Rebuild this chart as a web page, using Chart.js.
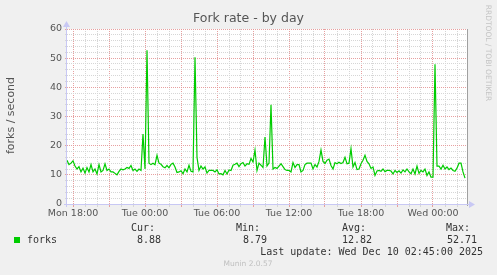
<!DOCTYPE html>
<html><head><meta charset="utf-8">
<script src="https://cdn.jsdelivr.net/npm/chart.js@4/dist/chart.umd.min.js"></script>
<style>html,body{margin:0;padding:0;background:#f0f0f0;}canvas{display:block;}</style>
</head><body>
<canvas id="c" width="497" height="275"></canvas>
<script>
// ---- data ----
const chartTitle = 'Fork rate - by day';
const yAxisTitle = 'forks / second';
const startHour = 17.5;          // Mon 17:30 (hours since Mon 00:00)
const endHour = 17.5 + 400 / 12; // Wed 02:50
const stepHours = 1 / 6;         // 10 minute samples
const forks = [
  15,13.5,14,14.8,13,12,12.8,11,12.3,10.6,
  12.5,11,13.5,11,12,10.3,13.5,11,11.5,13.8,
  11.5,12,11,11,10.5,10,11.2,12,11.7,12,
  12.5,12.2,13.2,11.5,12,11.2,12,11.5,24,12,
  52.71,
  14,13.5,14,13.5,16.7,14,13.6,12.8,12.4,13.2,
  12.4,13.6,14,12.7,10.8,11,11.4,10.4,12,11,
  13.3,11.2,11,50.3,16,11.5,13,12,12.7,10.6,
  11.5,11.5,11.5,11,11.7,10.3,10.4,10,11.5,10.3,
  11.7,
  11.5,13.3,13.6,14,12.8,13.8,14.2,13,13.8,13.6,
  15.6,14.4,18.5,11.5,14,13.3,12.5,23,13,14,
  34,12,12.5,12.2,13,13.8,12.8,11.8,11.5,11.5,
  11,14.2,12.5,13.5,13.5,11,11.5,13.5,14,
  14,14,12,13.5,12.7,14.6,18.5,14.6,13.9,15,
  15.4,13.2,12,14.2,13.8,14.3,13.9,14.2,16,13.8,
  14,19,12.7,14.2,11.8,12,13.8,15,16.7,14.6,
  13.8,12.2,12.7,9.8,11.3,11.5,11.2,12,11.1,11.5,
  11.5,
  11.3,10.3,11.5,10.8,11.4,10.6,11.7,11,12,11,
  10.4,12,10.3,13,10.5,11.5,11,12,9.8,11,
  9.2,9.2,47.9,13,13,12,13.3,12,12.7,11.8,
  12.3,11.5,11.2,12.3,14,14,11,8.88
];
const xTickHours = [18, 24, 30, 36, 42, 48];
const xTickLabels = ['Mon 18:00', 'Tue 00:00', 'Tue 06:00', 'Tue 12:00', 'Tue 18:00', 'Wed 00:00'];
const yMin = 0, yMax = 60, yLabelStep = 10, yMinorStep = 2;
const seriesName = 'forks';
const statLabels = ['Cur:', 'Min:', 'Avg:', 'Max:'];
const statValues = ['8.88', '8.79', '12.82', '52.71'];
const lastUpdate = 'Last update: Wed Dec 10 02:45:00 2025';
const muninVersion = 'Munin 2.0.57';
const rrdCredit = 'RRDTOOL / TOBI OETIKER';

// ---- styles ----
const GREEN = '#00cc00';
const MAJOR = 'rgba(228,150,150,0.9)';
const MINOR = '#d6d6d6';
const SANS = '"DejaVu Sans", sans-serif';
const MONO = '"DejaVu Sans Mono", monospace';

const points = forks.map((v, i) => ({ x: startHour + i * stepHours, y: v }));

const decor = {
  id: 'decor',
  beforeDraw(chart) {
    const { ctx, chartArea: a } = chart;
    ctx.save();
    ctx.fillStyle = '#f0f0f0';
    ctx.fillRect(0, 0, chart.width, chart.height);
    ctx.fillStyle = '#ffffff';
    ctx.fillRect(a.left, a.top, a.right - a.left, a.bottom - a.top);
    ctx.restore();
  },
  beforeDatasetsDraw(chart) {
    const { ctx, chartArea: a } = chart;
    ctx.save();
    // right frame line
    ctx.strokeStyle = '#a0a0a0';
    ctx.lineWidth = 1;
    ctx.beginPath();
    ctx.moveTo(a.right + 0.5, a.top);
    ctx.lineTo(a.right + 0.5, a.bottom + 2);
    ctx.stroke();
    // axes
    ctx.strokeStyle = '#c8c8f4';
    ctx.fillStyle = '#c8c8f4';
    ctx.beginPath();
    ctx.moveTo(a.left - 0.5, a.bottom + 3);
    ctx.lineTo(a.left - 0.5, a.top - 5);
    ctx.moveTo(a.left - 3, a.bottom + 0.5);
    ctx.lineTo(a.right + 5, a.bottom + 0.5);
    ctx.stroke();
    ctx.beginPath();
    ctx.moveTo(a.left - 0.5, a.top - 8);
    ctx.lineTo(a.left - 4, a.top - 2);
    ctx.lineTo(a.left + 3, a.top - 2);
    ctx.closePath();
    ctx.fill();
    ctx.beginPath();
    ctx.moveTo(a.right + 8, a.bottom + 0.5);
    ctx.lineTo(a.right + 2, a.bottom - 3);
    ctx.lineTo(a.right + 2, a.bottom + 4);
    ctx.closePath();
    ctx.fill();
    ctx.restore();
  },
  afterDraw(chart) {
    const { ctx, chartArea: a } = chart;
    ctx.save();
    // title
    ctx.fillStyle = '#555';
    ctx.font = '12.5px ' + SANS;
    ctx.textAlign = 'center';
    ctx.textBaseline = 'middle';
    ctx.fillText(chartTitle, chart.width / 2, 19);
    // y title
    ctx.save();
    ctx.translate(11, (a.top + a.bottom) / 2 - 1);
    ctx.rotate(-Math.PI / 2);
    ctx.font = '11px ' + SANS;
    ctx.fillText(yAxisTitle, 0, 0);
    ctx.restore();
    // rrd credit
    ctx.save();
    ctx.translate(488, 53);
    ctx.rotate(Math.PI / 2);
    ctx.fillStyle = '#c4c4c4';
    ctx.font = '7.5px ' + SANS;
    ctx.fillText(rrdCredit, 0, 0);
    ctx.restore();
    // legend
    ctx.fillStyle = GREEN;
    ctx.fillRect(14, 237, 6, 6);
    ctx.fillStyle = '#333';
    ctx.font = '10px ' + MONO;
    ctx.textAlign = 'left';
    ctx.fillText(seriesName, 27, 240);
    const labelRight = [155, 260, 366, 470];
    const valueRight = [161, 267, 372, 477];
    ctx.textAlign = 'right';
    for (let i = 0; i < statLabels.length; i++) {
      ctx.fillText(statLabels[i], labelRight[i], 228);
      ctx.fillText(statValues[i], valueRight[i], 240);
    }
    ctx.fillText(lastUpdate, 483, 252);
    // munin version
    ctx.textAlign = 'center';
    ctx.fillStyle = '#c0c0c0';
    ctx.font = '7.5px ' + SANS;
    ctx.fillText(muninVersion, 248, 264);
    ctx.restore();
  }
};

new Chart(document.getElementById('c'), {
  type: 'line',
  data: {
    datasets: [{
      label: seriesName,
      data: points,
      borderColor: GREEN,
      borderWidth: 1.2,
      pointRadius: 0,
      fill: false,
      tension: 0
    }]
  },
  options: {
    responsive: false,
    animation: false,
    devicePixelRatio: 1,
    layout: { padding: { left: 0, top: 29, right: 30, bottom: 0 } },
    plugins: { legend: { display: false }, title: { display: false }, tooltip: { enabled: false } },
    scales: {
      x: {
        type: 'linear',
        min: startHour,
        max: endHour,
        afterFit: s => { s.height = 71; },
        border: { display: false, dash: [1, 1] },
        grid: {
          color: c => (c.tick && c.tick.value % 3 === 0) ? MAJOR : MINOR,
          tickColor: c => (c.tick && c.tick.value % 3 === 0) ? MAJOR : MINOR,
          lineWidth: 1,
          drawTicks: true,
          tickLength: 3
        },
        ticks: {
          stepSize: 1,
          includeBounds: false,
          autoSkip: false,
          maxRotation: 0,
          minRotation: 0,
          padding: 1,
          color: '#555',
          font: { family: SANS, size: 9.5 },
          callback: v => {
            const i = xTickHours.indexOf(Math.round(v * 1000) / 1000);
            return i >= 0 ? xTickLabels[i] : '';
          }
        }
      },
      y: {
        min: yMin,
        max: yMax,
        afterFit: s => { s.width = 67; },
        border: { display: false, dash: [1, 1] },
        grid: {
          color: c => (c.tick && c.tick.value % yLabelStep === 0) ? MAJOR : MINOR,
          tickColor: c => (c.tick && c.tick.value % yLabelStep === 0) ? MAJOR : MINOR,
          lineWidth: 1,
          drawTicks: true,
          tickLength: 2
        },
        ticks: {
          stepSize: yMinorStep,
          autoSkip: false,
          padding: 3,
          color: '#555',
          font: { family: SANS, size: 9.5 },
          callback: v => (v % yLabelStep === 0) ? String(v) : ''
        }
      }
    }
  },
  plugins: [decor]
});
</script>
</body></html>
